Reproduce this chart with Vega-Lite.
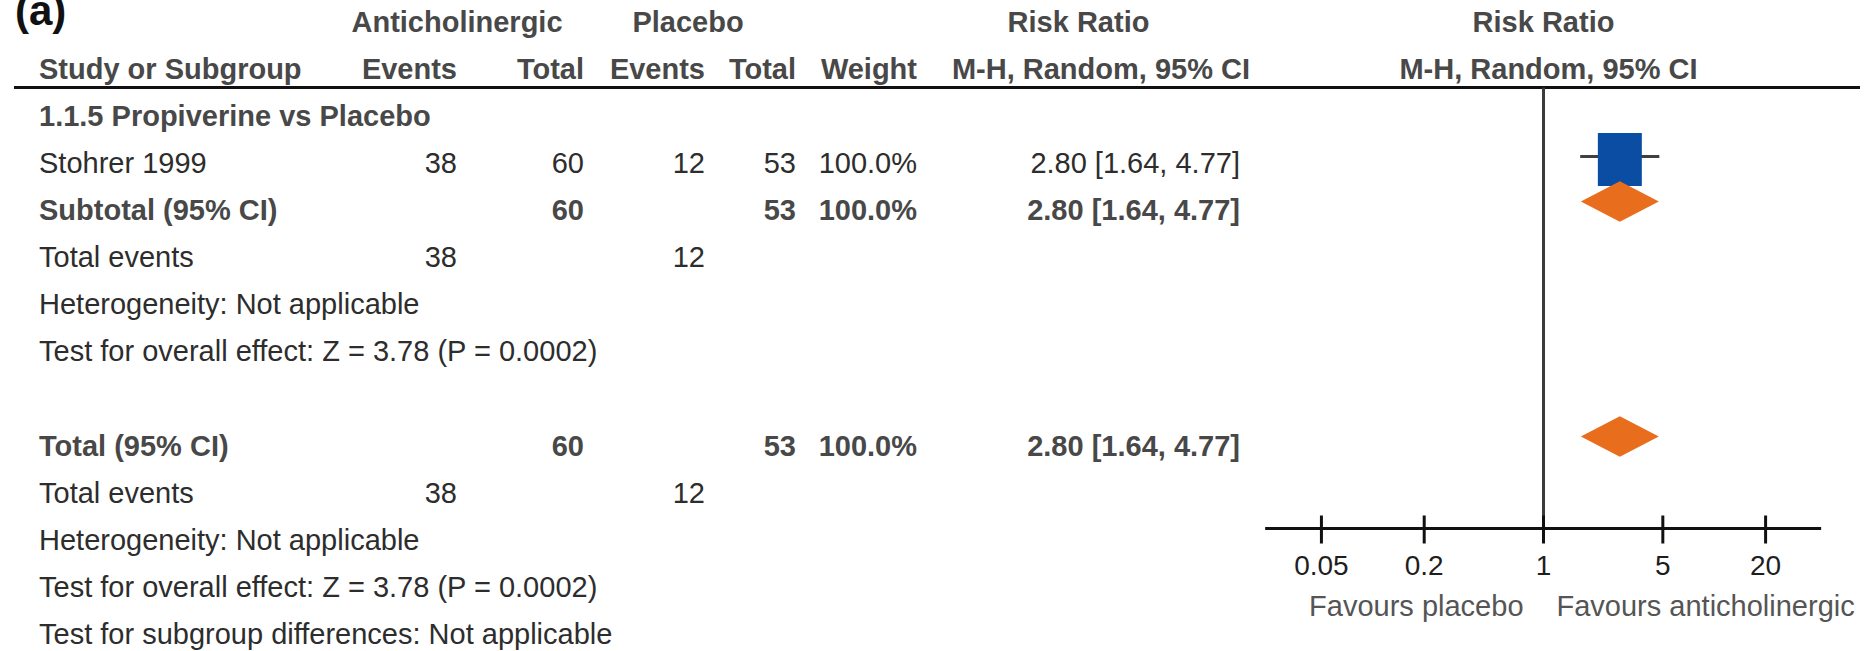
{
  "$schema": "https://vega.github.io/schema/vega-lite/v6.json",
  "background": "white",
  "padding": {"left": 12, "top": 0, "right": 14, "bottom": 0},
  "spacing": 0,
  "bounds": "flush",
  "config": {"view": {"stroke": null}, "font": "Liberation Sans", "text": {"font": "Liberation Sans", "fontSize": 29}},
  "datasets": {
    "rows": [
      {"key": "h1", "kind": "h1", "study": "(a)", "ev1": "Anticholinergic", "tot1": "", "ev2": "Placebo", "tot2": "", "weight": "", "ci": "Risk Ratio", "rr": "Risk Ratio"},
      {"key": "h2", "kind": "h2", "study": "Study or Subgroup", "ev1": "Events", "tot1": "Total", "ev2": "Events", "tot2": "Total", "weight": "Weight", "ci": "M-H, Random, 95% CI", "rr": "M-H, Random, 95% CI"},
      {"key": "g1", "kind": "group", "study": "1.1.5 Propiverine vs Placebo", "ev1": "", "tot1": "", "ev2": "", "tot2": "", "weight": "", "ci": "", "rr": ""},
      {"key": "s1", "kind": "study", "study": "Stohrer 1999", "ev1": "38", "tot1": "60", "ev2": "12", "tot2": "53", "weight": "100.0%", "ci": "2.80 [1.64, 4.77]", "rr": "", "est": 2.8, "lo": 1.64, "hi": 4.77},
      {"key": "sub1", "kind": "subtotal", "study": "Subtotal (95% CI)", "ev1": "", "tot1": "60", "ev2": "", "tot2": "53", "weight": "100.0%", "ci": "2.80 [1.64, 4.77]", "rr": "", "est": 2.8, "lo": 1.64, "hi": 4.77},
      {"key": "te1", "kind": "info", "study": "Total events", "ev1": "38", "tot1": "", "ev2": "12", "tot2": "", "weight": "", "ci": "", "rr": ""},
      {"key": "het1", "kind": "info", "study": "Heterogeneity: Not applicable", "ev1": "", "tot1": "", "ev2": "", "tot2": "", "weight": "", "ci": "", "rr": ""},
      {"key": "oe1", "kind": "info", "study": "Test for overall effect: Z = 3.78 (P = 0.0002)", "ev1": "", "tot1": "", "ev2": "", "tot2": "", "weight": "", "ci": "", "rr": ""},
      {"key": "tot", "kind": "total", "study": "Total (95% CI)", "ev1": "", "tot1": "60", "ev2": "", "tot2": "53", "weight": "100.0%", "ci": "2.80 [1.64, 4.77]", "rr": "", "est": 2.8, "lo": 1.64, "hi": 4.77},
      {"key": "te2", "kind": "info", "study": "Total events", "ev1": "38", "tot1": "", "ev2": "12", "tot2": "", "weight": "", "ci": "", "rr": ""},
      {"key": "het2", "kind": "info", "study": "Heterogeneity: Not applicable", "ev1": "", "tot1": "", "ev2": "", "tot2": "", "weight": "", "ci": "", "rr": ""},
      {"key": "oe2", "kind": "info", "study": "Test for overall effect: Z = 3.78 (P = 0.0002)", "ev1": "", "tot1": "", "ev2": "", "tot2": "", "weight": "", "ci": "", "rr": ""},
      {"key": "sg", "kind": "info", "study": "Test for subgroup differences: Not applicable", "ev1": "", "tot1": "", "ev2": "", "tot2": "", "weight": "", "ci": "", "rr": ""}
    ],
    "ticks": [
      {"v": 0.05, "label": "0.05"},
      {"v": 0.2, "label": "0.2"},
      {"v": 1, "label": "1"},
      {"v": 5, "label": "5"},
      {"v": 20, "label": "20"}
    ],
    "favours": [
      {"side": "left", "label": "Favours placebo"},
      {"side": "right", "label": "Favours anticholinergic"}
    ]
  },
  "hconcat": [
    {
      "width": 328, "height": 651, "data": {"name": "rows"},
      "encoding": {"y": {"field": "key", "type": "nominal", "scale": {"type": "point", "domain": ["h1","h2","g1","s1","sub1","te1","het1","oe1","gap","tot","te2","het2","oe2","sg"], "padding": 0.4255, "align": 0.5875}, "axis": null}},
      "layer": [
        {"transform": [{"filter": "datum.key === 'h1'"}],
         "mark": {"type": "text", "align": "left", "baseline": "alphabetic", "fontSize": 42, "fontWeight": "bold", "color": "#111111", "dx": 1, "dy": 2, "clip": true},
         "encoding": {"x": {"value": 0}, "text": {"field": "study", "type": "nominal"}}},
        {"transform": [{"filter": {"field": "kind", "oneOf": ["h2", "group", "subtotal", "total"]}}],
         "mark": {"type": "text", "align": "left", "baseline": "middle", "fontWeight": "bold", "color": "#484848", "dx": 25},
         "encoding": {"x": {"value": 0}, "text": {"field": "study", "type": "nominal"}}},
        {"transform": [{"filter": {"field": "kind", "oneOf": ["study", "info"]}}],
         "mark": {"type": "text", "align": "left", "baseline": "middle", "color": "#2d2d2d", "dx": 25},
         "encoding": {"x": {"value": 0}, "text": {"field": "study", "type": "nominal"}}},
        {"data": {"values": [{}]}, "mark": {"type": "rule", "color": "#111111", "strokeWidth": 3, "yOffset": 17}, "encoding": {"y": {"datum": "h2", "type": "nominal"}}}
      ]
    },
    {
      "width": 115, "height": 651, "data": {"name": "rows"},
      "encoding": {"y": {"field": "key", "type": "nominal", "scale": {"type": "point", "domain": ["h1","h2","g1","s1","sub1","te1","het1","oe1","gap","tot","te2","het2","oe2","sg"], "padding": 0.4255, "align": 0.5875}, "axis": null}},
      "layer": [
        {"transform": [{"filter": "datum.key === 'h1'"}],
         "mark": {"type": "text", "align": "center", "baseline": "middle", "fontWeight": "bold", "color": "#484848"},
         "encoding": {"x": {"value": "width"}, "text": {"field": "ev1", "type": "nominal"}}},
        {"transform": [{"filter": {"field": "kind", "oneOf": ["h2", "group", "subtotal", "total"]}}],
         "mark": {"type": "text", "align": "right", "baseline": "middle", "fontWeight": "bold", "color": "#484848"},
         "encoding": {"x": {"value": "width"}, "text": {"field": "ev1", "type": "nominal"}}},
        {"transform": [{"filter": {"field": "kind", "oneOf": ["study", "info"]}}],
         "mark": {"type": "text", "align": "right", "baseline": "middle", "color": "#2d2d2d"},
         "encoding": {"x": {"value": "width"}, "text": {"field": "ev1", "type": "nominal"}}},
        {"data": {"values": [{}]}, "mark": {"type": "rule", "color": "#111111", "strokeWidth": 3, "yOffset": 17}, "encoding": {"y": {"datum": "h2", "type": "nominal"}}}
      ]
    },
    {
      "width": 127, "height": 651, "data": {"name": "rows"},
      "encoding": {"y": {"field": "key", "type": "nominal", "scale": {"type": "point", "domain": ["h1","h2","g1","s1","sub1","te1","het1","oe1","gap","tot","te2","het2","oe2","sg"], "padding": 0.4255, "align": 0.5875}, "axis": null}},
      "layer": [
        {"transform": [{"filter": {"field": "kind", "oneOf": ["h2", "group", "subtotal", "total"]}}],
         "mark": {"type": "text", "align": "right", "baseline": "middle", "fontWeight": "bold", "color": "#484848"},
         "encoding": {"x": {"value": "width"}, "text": {"field": "tot1", "type": "nominal"}}},
        {"transform": [{"filter": {"field": "kind", "oneOf": ["study", "info"]}}],
         "mark": {"type": "text", "align": "right", "baseline": "middle", "color": "#2d2d2d"},
         "encoding": {"x": {"value": "width"}, "text": {"field": "tot1", "type": "nominal"}}},
        {"data": {"values": [{}]}, "mark": {"type": "rule", "color": "#111111", "strokeWidth": 3, "yOffset": 17}, "encoding": {"y": {"datum": "h2", "type": "nominal"}}}
      ]
    },
    {
      "width": 121, "height": 651, "data": {"name": "rows"},
      "encoding": {"y": {"field": "key", "type": "nominal", "scale": {"type": "point", "domain": ["h1","h2","g1","s1","sub1","te1","het1","oe1","gap","tot","te2","het2","oe2","sg"], "padding": 0.4255, "align": 0.5875}, "axis": null}},
      "layer": [
        {"transform": [{"filter": "datum.key === 'h1'"}],
         "mark": {"type": "text", "align": "center", "baseline": "middle", "fontWeight": "bold", "color": "#484848", "dx": -17},
         "encoding": {"x": {"value": "width"}, "text": {"field": "ev2", "type": "nominal"}}},
        {"transform": [{"filter": {"field": "kind", "oneOf": ["h2", "group", "subtotal", "total"]}}],
         "mark": {"type": "text", "align": "right", "baseline": "middle", "fontWeight": "bold", "color": "#484848"},
         "encoding": {"x": {"value": "width"}, "text": {"field": "ev2", "type": "nominal"}}},
        {"transform": [{"filter": {"field": "kind", "oneOf": ["study", "info"]}}],
         "mark": {"type": "text", "align": "right", "baseline": "middle", "color": "#2d2d2d"},
         "encoding": {"x": {"value": "width"}, "text": {"field": "ev2", "type": "nominal"}}},
        {"data": {"values": [{}]}, "mark": {"type": "rule", "color": "#111111", "strokeWidth": 3, "yOffset": 17}, "encoding": {"y": {"datum": "h2", "type": "nominal"}}}
      ]
    },
    {
      "width": 91, "height": 651, "data": {"name": "rows"},
      "encoding": {"y": {"field": "key", "type": "nominal", "scale": {"type": "point", "domain": ["h1","h2","g1","s1","sub1","te1","het1","oe1","gap","tot","te2","het2","oe2","sg"], "padding": 0.4255, "align": 0.5875}, "axis": null}},
      "layer": [
        {"transform": [{"filter": {"field": "kind", "oneOf": ["h2", "group", "subtotal", "total"]}}],
         "mark": {"type": "text", "align": "right", "baseline": "middle", "fontWeight": "bold", "color": "#484848"},
         "encoding": {"x": {"value": "width"}, "text": {"field": "tot2", "type": "nominal"}}},
        {"transform": [{"filter": {"field": "kind", "oneOf": ["study", "info"]}}],
         "mark": {"type": "text", "align": "right", "baseline": "middle", "color": "#2d2d2d"},
         "encoding": {"x": {"value": "width"}, "text": {"field": "tot2", "type": "nominal"}}},
        {"data": {"values": [{}]}, "mark": {"type": "rule", "color": "#111111", "strokeWidth": 3, "yOffset": 17}, "encoding": {"y": {"datum": "h2", "type": "nominal"}}}
      ]
    },
    {
      "width": 121, "height": 651, "data": {"name": "rows"},
      "encoding": {"y": {"field": "key", "type": "nominal", "scale": {"type": "point", "domain": ["h1","h2","g1","s1","sub1","te1","het1","oe1","gap","tot","te2","het2","oe2","sg"], "padding": 0.4255, "align": 0.5875}, "axis": null}},
      "layer": [
        {"transform": [{"filter": {"field": "kind", "oneOf": ["h2", "group", "subtotal", "total"]}}],
         "mark": {"type": "text", "align": "right", "baseline": "middle", "fontWeight": "bold", "color": "#484848"},
         "encoding": {"x": {"value": "width"}, "text": {"field": "weight", "type": "nominal"}}},
        {"transform": [{"filter": {"field": "kind", "oneOf": ["study", "info"]}}],
         "mark": {"type": "text", "align": "right", "baseline": "middle", "color": "#2d2d2d"},
         "encoding": {"x": {"value": "width"}, "text": {"field": "weight", "type": "nominal"}}},
        {"data": {"values": [{}]}, "mark": {"type": "rule", "color": "#111111", "strokeWidth": 3, "yOffset": 17}, "encoding": {"y": {"datum": "h2", "type": "nominal"}}}
      ]
    },
    {
      "width": 323, "height": 651, "data": {"name": "rows"},
      "encoding": {"y": {"field": "key", "type": "nominal", "scale": {"type": "point", "domain": ["h1","h2","g1","s1","sub1","te1","het1","oe1","gap","tot","te2","het2","oe2","sg"], "padding": 0.4255, "align": 0.5875}, "axis": null}},
      "layer": [
        {"transform": [{"filter": "datum.key === 'h1'"}],
         "mark": {"type": "text", "align": "center", "baseline": "middle", "fontWeight": "bold", "color": "#484848"},
         "encoding": {"text": {"field": "ci", "type": "nominal"}}},
        {"transform": [{"filter": "datum.key === 'h2'"}],
         "mark": {"type": "text", "align": "right", "baseline": "middle", "fontWeight": "bold", "color": "#484848", "dx": 10},
         "encoding": {"x": {"value": "width"}, "text": {"field": "ci", "type": "nominal"}}},
        {"transform": [{"filter": {"field": "kind", "oneOf": ["group", "subtotal", "total"]}}],
         "mark": {"type": "text", "align": "right", "baseline": "middle", "fontWeight": "bold", "color": "#484848"},
         "encoding": {"x": {"value": "width"}, "text": {"field": "ci", "type": "nominal"}}},
        {"transform": [{"filter": {"field": "kind", "oneOf": ["study", "info"]}}],
         "mark": {"type": "text", "align": "right", "baseline": "middle", "color": "#2d2d2d"},
         "encoding": {"x": {"value": "width"}, "text": {"field": "ci", "type": "nominal"}}},
        {"data": {"values": [{}]}, "mark": {"type": "rule", "color": "#111111", "strokeWidth": 3, "yOffset": 17}, "encoding": {"y": {"datum": "h2", "type": "nominal"}}}
      ]
    },
    {
      "width": 620, "height": 651, "data": {"name": "rows"},
      "encoding": {"y": {"field": "key", "type": "nominal", "scale": {"type": "point", "domain": ["h1","h2","g1","s1","sub1","te1","het1","oe1","gap","tot","te2","het2","oe2","sg"], "padding": 0.4255, "align": 0.5875}, "axis": null}},
      "layer": [
        {"transform": [{"filter": "datum.key === 'h1'"}],
         "mark": {"type": "text", "align": "center", "baseline": "middle", "fontWeight": "bold", "color": "#484848"},
         "encoding": {"x": {"datum": 1, "type": "quantitative", "scale": {"type": "log", "domain": [0.01667, 71.46], "nice": false}, "axis": null}, "text": {"field": "rr", "type": "nominal"}}},
        {"transform": [{"filter": "datum.key === 'h2'"}],
         "mark": {"type": "text", "align": "center", "baseline": "middle", "fontWeight": "bold", "color": "#484848", "dx": 5},
         "encoding": {"x": {"datum": 1, "type": "quantitative", "scale": {"type": "log", "domain": [0.01667, 71.46], "nice": false}, "axis": null}, "text": {"field": "rr", "type": "nominal"}}},
        {"data": {"values": [{}]}, "mark": {"type": "rule", "color": "#111111", "strokeWidth": 3, "yOffset": 17}, "encoding": {"y": {"datum": "h2", "type": "nominal"}}},
        {"data": {"values": [{}]}, "mark": {"type": "rule", "color": "#3a3a3a", "strokeWidth": 3, "yOffset": 17, "y2Offset": 35},
         "encoding": {"x": {"datum": 1, "type": "quantitative", "scale": {"type": "log", "domain": [0.01667, 71.46], "nice": false}, "axis": null}, "y": {"datum": "h2", "type": "nominal"}, "y2": {"datum": "te2"}}},
        {"transform": [{"filter": "datum.kind === 'study'"}],
         "mark": {"type": "rule", "color": "#404040", "strokeWidth": 3, "yOffset": -8},
         "encoding": {"x": {"field": "lo", "type": "quantitative", "scale": {"type": "log", "domain": [0.01667, 71.46], "nice": false}, "axis": null}, "x2": {"field": "hi"}}},
        {"transform": [{"filter": "datum.kind === 'study'"}],
         "mark": {"type": "point", "shape": "M-0.83,-1L0.83,-1L0.83,1L-0.83,1Z", "filled": true, "fill": "#0B4DA2", "opacity": 1, "strokeWidth": 0, "size": 2809, "yOffset": -5},
         "encoding": {"x": {"field": "est", "type": "quantitative", "scale": {"type": "log", "domain": [0.01667, 71.46], "nice": false}, "axis": null}}},
        {"transform": [{"filter": "datum.kind === 'subtotal' || datum.kind === 'total'"}],
         "mark": {"type": "point", "shape": "M-1,0L0,-0.52L1,0L0,0.52Z", "filled": true, "fill": "#E86E1E", "opacity": 1, "strokeWidth": 0, "size": 6084, "yOffset": -10},
         "encoding": {"x": {"field": "est", "type": "quantitative", "scale": {"type": "log", "domain": [0.01667, 71.46], "nice": false}, "axis": null}}},
        {"data": {"values": [{}]}, "mark": {"type": "rule", "color": "#111111", "strokeWidth": 3, "yOffset": 35},
         "encoding": {"x": {"datum": 0.0234, "type": "quantitative", "scale": {"type": "log", "domain": [0.01667, 71.46], "nice": false}, "axis": null}, "x2": {"datum": 42.3}, "y": {"datum": "te2", "type": "nominal"}}},
        {"data": {"name": "ticks"}, "mark": {"type": "rule", "color": "#111111", "strokeWidth": 3, "yOffset": 22, "y2Offset": 50},
         "encoding": {"x": {"field": "v", "type": "quantitative", "scale": {"type": "log", "domain": [0.01667, 71.46], "nice": false}, "axis": null}, "y": {"datum": "te2", "type": "nominal"}, "y2": {"datum": "te2"}}},
        {"data": {"name": "ticks"}, "mark": {"type": "text", "align": "center", "baseline": "middle", "fontSize": 28, "color": "#1e1e1e", "dy": 26},
         "encoding": {"x": {"field": "v", "type": "quantitative", "scale": {"type": "log", "domain": [0.01667, 71.46], "nice": false}, "axis": null}, "y": {"datum": "het2", "type": "nominal"}, "text": {"field": "label", "type": "nominal"}}},
        {"data": {"name": "favours"}, "transform": [{"filter": "datum.side === 'left'"}],
         "mark": {"type": "text", "align": "right", "baseline": "middle", "color": "#555555", "dx": -20, "dy": 19},
         "encoding": {"x": {"datum": 1, "type": "quantitative", "scale": {"type": "log", "domain": [0.01667, 71.46], "nice": false}, "axis": null}, "y": {"datum": "oe2", "type": "nominal"}, "text": {"field": "label", "type": "nominal"}}},
        {"data": {"name": "favours"}, "transform": [{"filter": "datum.side === 'right'"}],
         "mark": {"type": "text", "align": "left", "baseline": "middle", "color": "#555555", "dx": 13, "dy": 19},
         "encoding": {"x": {"datum": 1, "type": "quantitative", "scale": {"type": "log", "domain": [0.01667, 71.46], "nice": false}, "axis": null}, "y": {"datum": "oe2", "type": "nominal"}, "text": {"field": "label", "type": "nominal"}}}
      ]
    }
  ]
}
